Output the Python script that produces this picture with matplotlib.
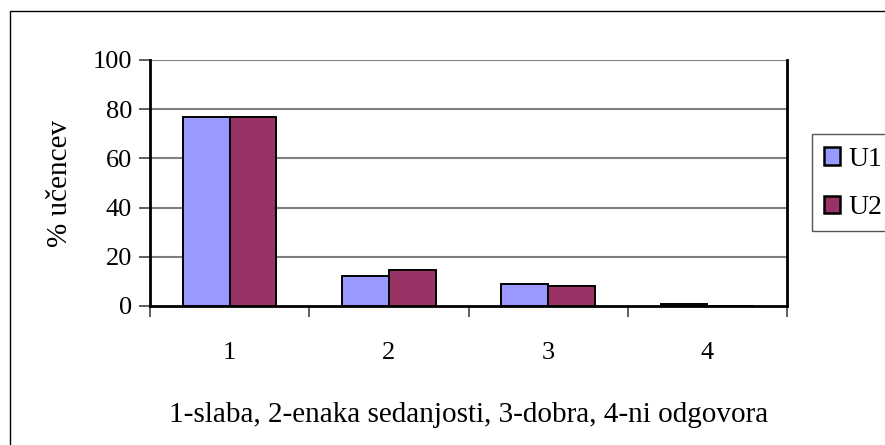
import numpy as np
from matplotlib import pyplot as plt
from matplotlib.patches import Rectangle, Patch

# Data
categories = ['1', '2', '3', '4']
u1 = [77, 12, 9, 1]
u2 = [77, 14.5, 8.2, 0]
series_names = ['U1', 'U2']
yticks = [0, 20, 40, 60, 80, 100]

plt.rcParams['font.family'] = ['Liberation Serif', 'DejaVu Serif']

W, H = 885, 445
fig = plt.figure(figsize=(W/100, H/100), dpi=100)

# outer chart frame (right and bottom edges fall outside the picture)
fig.patches.append(Rectangle((10/W, -20/H), 900/W, (H-11+20)/H, transform=fig.transFigure,
                             fill=False, edgecolor='black', linewidth=1.0))

ax = fig.add_axes([150/W, (H-306)/H, (787-150)/W, (306-60)/H])

x = np.arange(len(categories)) + 0.5
bw = 0.294
ax.bar(x - bw/2, u1, bw, color='#9999FF', edgecolor='black', linewidth=1.4, zorder=3)
ax.bar(x + bw/2, u2, bw, color='#993366', edgecolor='black', linewidth=1.4, zorder=3)

ax.set_xlim(0, 4)
ax.set_ylim(0, 100)
ax.set_yticks(yticks)
ax.set_yticklabels([str(v) for v in yticks], fontsize=19)
for v in yticks[1:]:
    ax.axhline(v, color='#808080', linewidth=1.5, zorder=1)

ax.set_xticks(x)
ax.set_xticklabels(categories, fontsize=19)
ax.tick_params(axis='x', which='major', length=0, pad=26)
ax.set_xticks(np.arange(0, 5), minor=True)
ax.tick_params(axis='x', which='minor', length=8, width=1.2, color='#444444')
ax.tick_params(axis='y', length=8, width=1.2, color='#444444', pad=5)

ax.spines['left'].set_linewidth(2)
ax.spines['bottom'].set_linewidth(2)
ax.spines['right'].set_linewidth(2)
ax.spines['top'].set_visible(False)

ax.set_ylabel('% učencev', fontsize=21, labelpad=14)
ax.set_xlabel('1-slaba, 2-enaka sedanjosti, 3-dobra, 4-ni odgovora', fontsize=21, labelpad=27)

handles = [Patch(facecolor='#9999FF', edgecolor='black', linewidth=1.8),
           Patch(facecolor='#993366', edgecolor='black', linewidth=1.8)]
leg = fig.legend(handles, series_names, loc='upper left',
                 bbox_to_anchor=(811/W, (H-134)/H), fontsize=20,
                 handlelength=0.6, handleheight=0.6, handletextpad=0.3,
                 borderpad=0.45, labelspacing=0.85, borderaxespad=0,
                 frameon=False)
# legend box runs past the right edge of the picture
fig.patches.append(Rectangle((812/W, (H-231)/H), 100/W, 97/H, transform=fig.transFigure,
                             fill=False, edgecolor='#555555', linewidth=1.0))

fig.savefig('out.png', dpi=100)
